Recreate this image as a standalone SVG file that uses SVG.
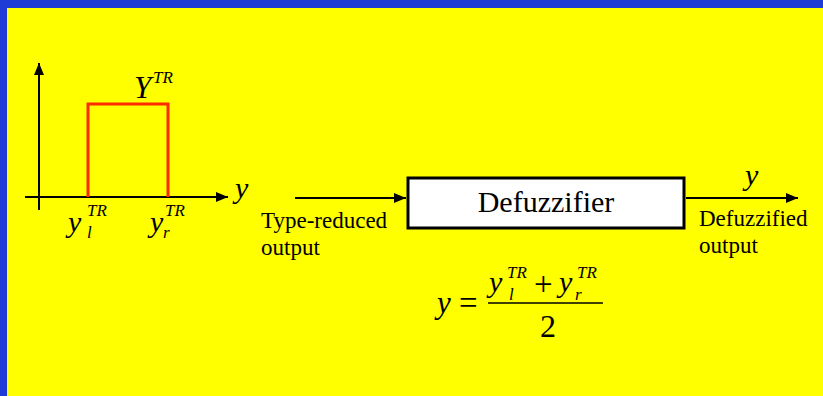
<svg xmlns="http://www.w3.org/2000/svg" width="823" height="396" viewBox="0 0 823 396">
<defs>
<marker id="ah" viewBox="0 0 12 10" refX="12" refY="5" markerWidth="12" markerHeight="10" markerUnits="userSpaceOnUse" orient="auto">
<path d="M0,0 L12,5 L0,10 Z" fill="#000"/>
</marker>
</defs>
<style>
.t{font-family:"Liberation Serif","Times New Roman",serif;fill:#000}
.i{font-style:italic}
.ln{stroke:#000;stroke-width:2;fill:none}
</style>
<rect x="0" y="0" width="823" height="396" fill="#1f3cd6"/>
<rect x="7" y="8" width="816" height="388" fill="#ffff00"/>
<g id="plot">
<line class="ln" x1="39" y1="210" x2="39" y2="63" marker-end="url(#ah)"/>
<line class="ln" x1="25" y1="197" x2="228" y2="197" marker-end="url(#ah)"/>
<path d="M88,197 V104 H168 V197" fill="none" stroke="#ff2a00" stroke-width="3"/>
<text class="t i" x="134" y="98" font-size="31">Y</text>
<text class="t i" x="153" y="83" font-size="17">TR</text>
<text class="t i" x="235" y="198" font-size="30">y</text>
<text class="t i" x="68" y="232" font-size="30">y</text>
<text class="t i" x="87" y="216" font-size="17">TR</text>
<text class="t i" x="87" y="238" font-size="17">l</text>
<text class="t i" x="150" y="232" font-size="30">y</text>
<text class="t i" x="165" y="216" font-size="17">TR</text>
<text class="t i" x="163" y="238" font-size="17">r</text>
</g>
<g id="connectors">
<line class="ln" x1="295" y1="198" x2="406" y2="198" marker-end="url(#ah)"/>
<line class="ln" x1="686" y1="198" x2="798" y2="198" marker-end="url(#ah)"/>
</g>
<g id="defuzzifier">
<rect x="408" y="178" width="276" height="50" fill="#fff" stroke="#000" stroke-width="3"/>
<text class="t" x="546" y="212" font-size="30" text-anchor="middle">Defuzzifier</text>
</g>
<g id="input-label">
<text class="t" x="261" y="228" font-size="23">Type-reduced</text>
<text class="t" x="261" y="255" font-size="23">output</text>
</g>
<g id="output-label">
<text class="t i" x="745" y="185" font-size="30">y</text>
<text class="t" x="699" y="226" font-size="23">Defuzzified</text>
<text class="t" x="699" y="253" font-size="23">output</text>
</g>
<g id="formula">
<text class="t i" x="437" y="313" font-size="31">y</text>
<text class="t" x="459" y="314" font-size="33">=</text>
<line x1="488" y1="303" x2="603" y2="303" stroke="#000" stroke-width="1.5"/>
<text class="t i" x="489" y="292" font-size="30">y</text>
<text class="t i" x="507" y="278" font-size="17">TR</text>
<text class="t i" x="509" y="300" font-size="17">l</text>
<text class="t" x="534" y="295" font-size="33">+</text>
<text class="t i" x="559" y="292" font-size="30">y</text>
<text class="t i" x="577" y="278" font-size="17">TR</text>
<text class="t i" x="575" y="300" font-size="17">r</text>
<text class="t" x="548" y="337" font-size="32" text-anchor="middle">2</text>
</g>
</svg>
